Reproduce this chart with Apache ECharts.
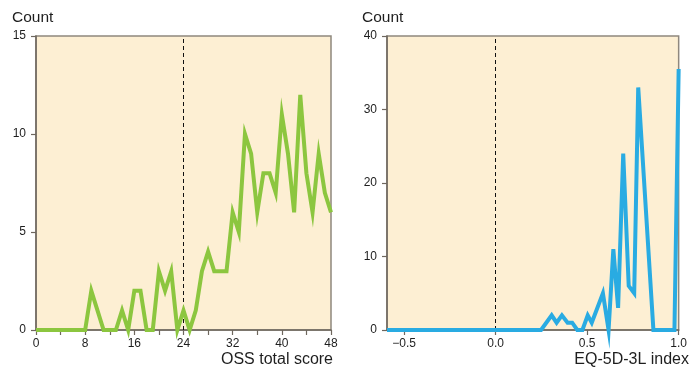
<!DOCTYPE html>
<html>
<head>
<meta charset="utf-8">
<script src="https://cdn.jsdelivr.net/npm/echarts@6/dist/echarts.min.js"></script>
<style>
html,body{margin:0;padding:0;background:#fff;}
#c{width:690px;height:368px;}
</style>
</head>
<body>
<div id="c"></div>
<script>
// Left panel: OSS total score (0..48) vs count
const ossScores = [0,1,2,3,4,5,6,7,8,9,10,11,12,13,14,15,16,17,18,19,20,21,22,23,24,25,26,27,28,29,30,31,32,33,34,35,36,37,38,39,40,41,42,43,44,45,46,47,48];
const ossCounts = [0,0,0,0,0,0,0,0,0,2,1,0,0,0,1,0,2,2,0,0,3,2,3,0,1,0,1,3,4,3,3,3,6,5,10,9,6,8,8,7,11,9,6,12,8,6,9,7,6];
const ossTickLabels = [0,8,16,24,32,40,48];
const ossYTicks = [0,5,10,15];
const ossCutoff = 24;

// Right panel: EQ-5D-3L index vs count
const eqIndex = [-0.594,0.248,0.306,0.333,0.362,0.393,0.418,0.446,0.474,0.503,0.525,0.586,0.617,0.643,0.669,0.697,0.727,0.757,0.779,0.862,0.977,1.0];
const eqCounts = [0,0,2,1,2,1,1,0,0,2,1,5,0,11,3,24,6,5,33,0,0,35.5];
const eqTickLabels = [-0.5,0.0,0.5,1.0];
const eqYTicks = [0,10,20,30,40];
const eqCutoff = 0;

const FONT = '"Liberation Sans", Arial, Helvetica, sans-serif';
const AXIS_COL = '#6e675e';
const BORDER_COL = '#8f887e';
const BG = '#fdefd3';
const TXT = '#1e1e1e';

const chart = echarts.init(document.getElementById('c'), null, {renderer:'canvas'});

function yAxisCfg(idx, max, interval){
  return {
    type:'value', gridIndex: idx, min:0, max:max, interval:interval,
    splitLine:{show:false},
    axisLine:{show:true, onZero:false, lineStyle:{color:AXIS_COL, width:1.5}},
    axisTick:{show:true, inside:false, length:5, lineStyle:{color:AXIS_COL, width:1.2}},
    axisLabel:{color:TXT, fontFamily:FONT, fontSize:12, margin:10}
  };
}

const option = {
  animation:false,
  backgroundColor:'#ffffff',
  grid:[
    {left:36, right:359, top:36, bottom:38, show:true, backgroundColor:BG, borderColor:BORDER_COL, borderWidth:1.5},
    {left:387, right:10, top:36, bottom:38, show:true, backgroundColor:BG, borderColor:BORDER_COL, borderWidth:1.5}
  ],
  xAxis:[
    {
      type:'value', gridIndex:0, min:0, max:48, interval:4,
      splitLine:{show:false},
      axisLine:{show:true, onZero:false, lineStyle:{color:AXIS_COL, width:1.5}},
      axisTick:{show:true, length:5, lineStyle:{color:AXIS_COL, width:1.2}},
      axisLabel:{color:TXT, fontFamily:FONT, fontSize:12, margin:8,
        customValues: ossTickLabels, formatter: v => String(v)}
    },
    {
      type:'value', gridIndex:1, min:-0.594, max:1,
      splitLine:{show:false},
      axisLine:{show:true, onZero:false, lineStyle:{color:AXIS_COL, width:1.5}},
      axisTick:{show:true, length:5, customValues: eqTickLabels, lineStyle:{color:AXIS_COL, width:1.2}},
      axisLabel:{color:TXT, fontFamily:FONT, fontSize:12, margin:8,
        customValues: eqTickLabels,
        formatter: v => (v < 0 ? '\u2212' : '') + Math.abs(v).toFixed(1)}
    }
  ],
  yAxis:[ yAxisCfg(0, 15, 5), yAxisCfg(1, 40, 10) ],
  series:[
    {
      type:'line', xAxisIndex:0, yAxisIndex:0,
      data: ossScores.map((x,i)=>[x, ossCounts[i]]),
      showSymbol:false, clip:false,
      lineStyle:{color:'#8cc63f', width:4, join:'miter'},
      itemStyle:{color:'#8cc63f'},
      z:3,
      markLine:{
        silent:true, symbol:['none','none'], label:{show:false},
        lineStyle:{color:'#111', type:[4,3], width:1},
        data:[{xAxis: ossCutoff}],
        z:2
      }
    },
    {
      type:'line', xAxisIndex:1, yAxisIndex:1,
      data: eqIndex.map((x,i)=>[x, eqCounts[i]]),
      showSymbol:false, clip:false,
      lineStyle:{color:'#29abe2', width:4, join:'miter'},
      itemStyle:{color:'#29abe2'},
      z:3,
      markLine:{
        silent:true, symbol:['none','none'], label:{show:false},
        lineStyle:{color:'#111', type:[4,3], width:1},
        data:[{xAxis: eqCutoff}],
        z:2
      }
    }
  ],
  graphic:[
    {type:'text', left:12, top:10, style:{text:'Count', font:'15.5px '+FONT, fill:TXT}},
    {type:'text', left:362, top:10, style:{text:'Count', font:'15.5px '+FONT, fill:TXT}},
    {type:'text', right:357, top:352, style:{text:'OSS total score', font:'16px '+FONT, fill:TXT}},
    {type:'text', right:1, top:352, style:{text:'EQ-5D-3L index', font:'16px '+FONT, fill:TXT}}
  ]
};
chart.setOption(option);
</script>
</body>
</html>
